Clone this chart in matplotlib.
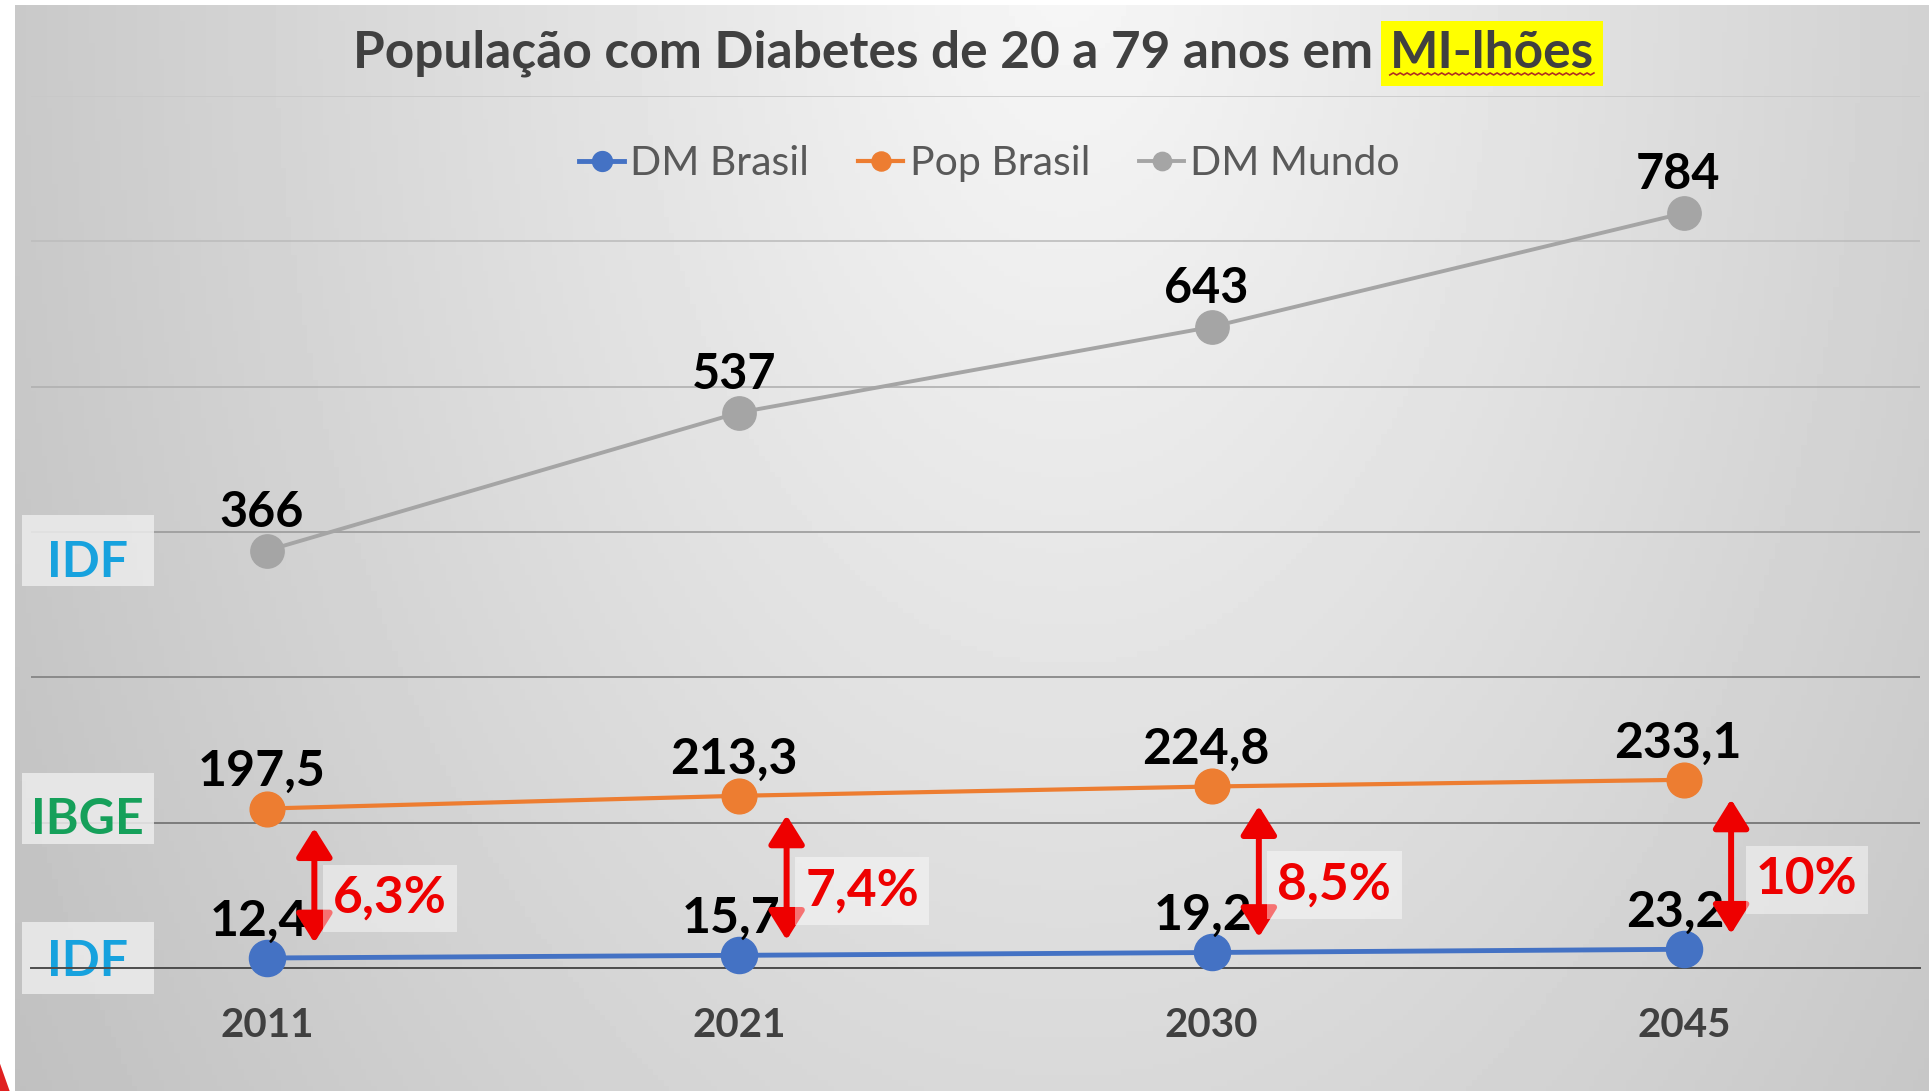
import numpy as np
import matplotlib.pyplot as plt
import matplotlib.transforms as mtransforms
from matplotlib.patches import Rectangle, Polygon

# dados (milhões)
anos = ['2011', '2021', '2030', '2045']
dm_brasil = [12.4, 15.7, 19.2, 23.2]
pop_brasil = [197.5, 213.3, 224.8, 233.1]
dm_mundo = [366, 537, 643, 784]
pct_labels = ['6,3%', '7,4%', '8,5%', '10%']

AZUL = '#4472C4'
LARANJA = '#ED7D31'
CINZA = '#A5A5A5'
VERMELHO = '#EE0000'


def br(v):
    return f'{v:.1f}'.replace('.', ',')


plt.rcParams['font.family'] = ['Lato', 'DejaVu Sans']

fig = plt.figure(figsize=(19.29, 10.91), dpi=100)

# fundo cinza em degrade
bg = fig.add_axes([15 / 1929, 0, 1 - 15 / 1929, 1 - 5 / 1091])
yy, xx = np.mgrid[0:1:200j, 0:1:360j]
r = np.sqrt(((xx - 0.55) / 0.55) ** 2 + ((yy + 0.05) / 1.6) ** 2)
g = np.clip(247 - 46 * r, 185, 250) / 255
bg.imshow(g, cmap='gray', vmin=0, vmax=1, aspect='auto', extent=[0, 1, 1, 0])
bg.axis('off')
fig.patches.append(Polygon([(0, 0), (0.005, 0), (0, 0.025)], closed=True,
                           transform=fig.transFigure, fc='#E02020', ec='none'))

ax = fig.add_axes([31 / 1929, 123 / 1091, 1889 / 1929, 872 / 1091])
ax.patch.set_alpha(0)
ax2 = ax.twinx()
ax2.patch.set_alpha(0)

x = np.arange(len(anos))
l1, = ax.plot(x, dm_brasil, color=AZUL, lw=3.5, marker='o', ms=26, label='DM Brasil', clip_on=False, zorder=3)
l2, = ax.plot(x, pop_brasil, color=LARANJA, lw=3, marker='o', ms=25, label='Pop Brasil', clip_on=False, zorder=3)
l3, = ax2.plot(x, dm_mundo, color=CINZA, lw=2.8, marker='o', ms=24, label='DM Mundo', clip_on=False)

ax.set_xlim(-0.5, 3.5)
ax.set_ylim(0, 1080)
ax.set_yticks(np.arange(0, 1081, 180))
ax2.set_ylim(-151, 929)
ax2.set_yticks([])
ax.tick_params(axis='y', length=0, labelleft=False)
ax.grid(axis='y', lw=1.2)
cores_grade = ['#4d4d4d', '#6e6e6e', '#808080', '#9a9a9a', '#b0b0b0', '#bdbdbd', '#c8c8c8']
for gl, c in zip(ax.get_ygridlines(), cores_grade):
    gl.set_color(c)
ax.set_axisbelow(True)
for s in ['top', 'left', 'right']:
    ax.spines[s].set_visible(False)
for s in ax2.spines.values():
    s.set_visible(False)
ax.spines['bottom'].set_color('#4d4d4d')
ax.spines['bottom'].set_linewidth(1.4)
ax.set_xticks(x, anos, fontsize=29, fontweight='bold', color='#404040')
ax.tick_params(axis='x', length=0, pad=28)

# rótulos de dados
for xi, v in zip(x, dm_mundo):
    ax2.annotate(str(v), (xi, v), xytext=(-4, 17), textcoords='offset points',
                 ha='center', va='baseline', fontsize=35, fontweight='bold', color='black')
for xi, v in zip(x, pop_brasil):
    ax.annotate(br(v), (xi, v), xytext=(-4, 16), textcoords='offset points',
                ha='center', va='baseline', fontsize=36, fontweight='bold', color='black')
for xi, v in zip(x, dm_brasil):
    ax.annotate(br(v), (xi, v), xytext=(-6, 16), textcoords='offset points',
                ha='center', va='baseline', fontsize=36, fontweight='bold', color='black')

# setas com a proporção DM / população
for xi, a, b, lab in zip(x, dm_brasil, pop_brasil, pct_labels):
    ax.annotate('', xy=(xi + 0.1, b), xytext=(xi + 0.1, a),
                arrowprops=dict(arrowstyle='<|-|>,head_length=0.8,head_width=0.5',
                                color=VERMELHO, lw=4.3, shrinkA=11, shrinkB=14,
                                mutation_scale=22))
    ax.annotate(lab, (xi + 0.26, (a + b) / 2), xytext=(0, -11), textcoords='offset points',
                ha='center', va='center', fontsize=37, fontweight='bold', color=VERMELHO,
                bbox=dict(boxstyle='square,pad=0.2', fc='white', ec='none', alpha=0.45))

# fontes dos dados
fontes = [(ax2, dm_mundo[0], 'IDF', '#17A2DE', -6),
          (ax, pop_brasil[0], 'IBGE', '#15A05A', -5),
          (ax, dm_brasil[0], 'IDF', '#17A2DE', 0)]
for eixo, v, txt, cor, dy in fontes:
    tr = mtransforms.blended_transform_factory(eixo.transAxes, eixo.transData)
    eixo.add_patch(Rectangle((-0.0048, v - 44), 0.0699, 88, transform=tr,
                             fc='#ececec', ec='none', alpha=0.85, clip_on=False, zorder=1))
    eixo.text(0.03, v, txt, transform=tr + mtransforms.ScaledTranslation(0, dy / 72, fig.dpi_scale_trans),
              ha='center', va='center_baseline', fontsize=36, fontweight='bold', color=cor, zorder=2)

# legenda
fig.legend(handles=[l1, l2, l3], loc='center', bbox_to_anchor=(0.513, 0.850), ncol=3,
           frameon=False, fontsize=29.5, labelcolor='#595959', markerscale=0.55,
           handlelength=1.1, handletextpad=0.15, columnspacing=1.2)

# título
t1 = fig.text(0.183, 0.951, 'População com Diabetes de 20 a 79 anos em', fontsize=37,
              fontweight='bold', color='#404040', ha='left', va='center')
t2 = ax.annotate('MI-lhões', xy=(1, 0.5), xycoords=t1, xytext=(12, 0), textcoords='offset points',
                 ha='left', va='center', fontsize=37, fontweight='bold', color='#404040',
                 annotation_clip=False,
                 bbox=dict(boxstyle='square,pad=0.18', fc='#FFFF00', ec='none'))

fig.canvas.draw()
bb = t2.get_window_extent()
zx = np.linspace(bb.x0, bb.x1, 60)
zy = bb.y0 + 2 + 2 * (np.arange(60) % 2)
fig.add_artist(plt.Line2D(zx, zy, transform=None, color='#B03020', lw=1.2))

fig.savefig('out.png', dpi=100)
